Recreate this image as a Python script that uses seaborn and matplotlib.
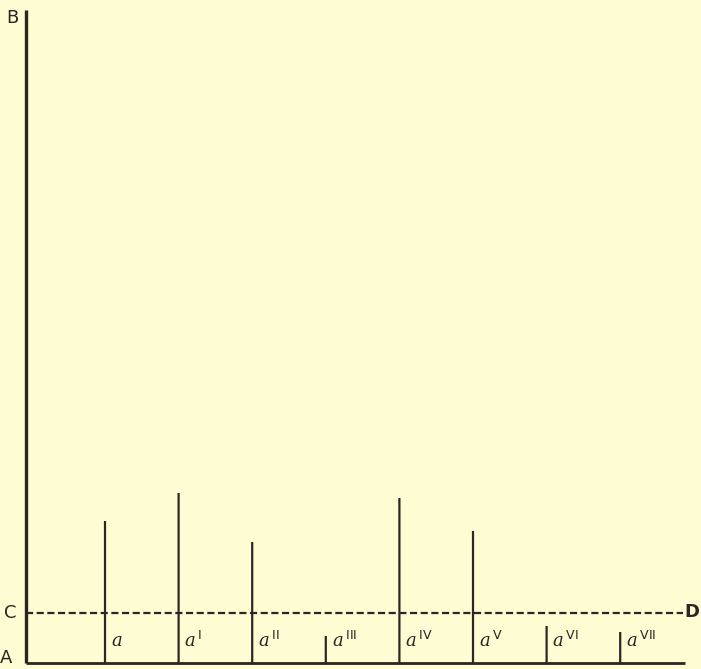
import numpy as np
import pandas as pd
import matplotlib
matplotlib.use("Agg")
import matplotlib.pyplot as plt
import seaborn as sns

# Ordinaten a .. aVII (Hoehe ueber AC), Position 1..8
LABELS = ["", "I", "II", "III", "IV", "V", "VI", "VII"]
POSITIONS = [1, 2, 3, 4, 5, 6, 7, 8]
HEIGHTS = [14.2, 17.0, 12.1, 2.7, 16.5, 13.2, 3.7, 3.1]
CD_LEVEL = 5.0
AB_TOP = 65.3

BG = "#fdfcd2"
INK = "#2b2623"

sns.set_theme(style="white", rc={"axes.facecolor": BG, "figure.facecolor": BG})
plt.rcParams["font.family"] = ["DejaVu Sans"]

fig = plt.figure(figsize=(7.01, 6.69), dpi=100)
ax = fig.add_axes([0, 0, 1, 1])

step = 73.6  # pixel pro Einheit auf x
x_left = 1 - 105 / step
x_right = 1 + (701 - 105) / step
x_axis = 1 - 79 / step
ax.set_xlim(x_left, x_right)
ax.set_ylim(-0.6, 66.3)

df = pd.DataFrame({"pos": POSITIONS, "h": HEIGHTS, "lab": LABELS})
sns.barplot(data=df, x="pos", y="h", native_scale=True, width=0.03,
            color=INK, linewidth=0, saturation=1, ax=ax)
for bar in ax.patches:
    bar.set_snap(False)

# Achsen AB, AC und gestrichelte Linie CD
ax.vlines(x_axis, 0, AB_TOP, color=INK, lw=2.4)
ax.hlines(0, x_axis, 1 + (685 - 105) / step, color=INK, lw=2.0)
ax.hlines(CD_LEVEL, x_axis, 1 + (683 - 105) / step, color=INK, lw=1.6,
          linestyles=(0, (3.2, 1.6)))

for p, lab in zip(POSITIONS, LABELS):
    txt = r"$a$" if lab == "" else r"$a^{\,\mathsf{%s}}$" % lab
    ax.text(p + 0.08, 2.2, txt, color=INK, fontsize=13, va="center", ha="left",
            math_fontfamily="dejavuserif")

ax.text(1 + (12 - 105) / step, 64.5, "B", color=INK, fontsize=13, ha="center", va="center")
ax.text(1 + (10 - 105) / step, CD_LEVEL, "C", color=INK, fontsize=13, ha="center", va="center")
ax.text(1 + (692 - 105) / step, CD_LEVEL + 0.1, "D", color=INK, fontsize=13,
        fontweight="bold", ha="center", va="center")
ax.text(1 + (6 - 105) / step, 0.5, "A", color=INK, fontsize=13, ha="center", va="center")

ax.set_axis_off()
fig.savefig("out.png", dpi=100, facecolor=BG)
